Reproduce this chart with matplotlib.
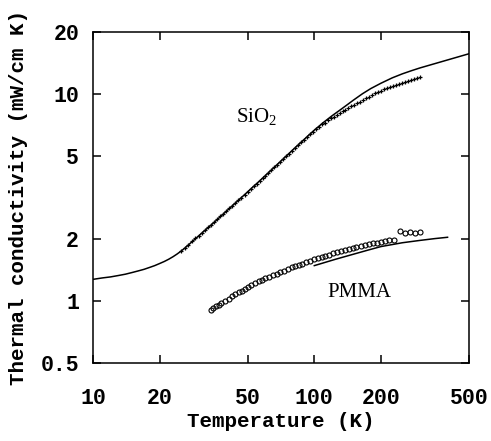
import numpy as np
import matplotlib
matplotlib.use('Agg')
import matplotlib.pyplot as plt
from matplotlib.ticker import FixedLocator, FixedFormatter, NullLocator

plt.rcParams['mathtext.fontset'] = 'custom'
plt.rcParams['mathtext.rm'] = 'Liberation Serif'
plt.rcParams['mathtext.it'] = 'Liberation Serif'

# SiO2 model curve (solid line)
sio2_fit_T = [10, 11, 12, 13, 14, 15, 16, 17, 18, 19, 20, 21, 22, 23, 24, 25, 26, 27, 28,
              29, 30, 32, 35, 40, 45, 50, 55, 60, 70, 80, 90, 100, 110, 120, 130, 140,
              150, 165, 180, 200, 225, 250, 275, 300, 500]
sio2_fit_k = [1.27, 1.29, 1.305, 1.325, 1.345, 1.37, 1.395, 1.42, 1.45, 1.48, 1.515, 1.55,
              1.59, 1.635, 1.685, 1.74, 1.80, 1.865, 1.93, 1.995, 2.06, 2.19, 2.38, 2.71,
              3.04, 3.37, 3.70, 4.03, 4.70, 5.38, 6.04, 6.7, 7.3, 7.85, 8.35, 8.85, 9.35,
              10.05, 10.65, 11.3, 12.0, 12.55, 13.0, 13.4, 15.7]

# SiO2 measured points
sio2_T = [25, 26, 27, 28, 29, 30, 31, 32, 33, 34, 35.2, 36.4, 37.6, 38.8, 40, 41.3, 42.6,
          44, 45.4, 46.8, 48.4, 50, 51.6, 53.3, 55, 56.8, 58.4, 60, 62, 64, 66, 68, 70,
          72.2, 74.5, 76.8, 79.2, 81.7, 84.3, 87, 89.8, 92.6, 95.5, 98.5, 101.6, 104.8,
          108.1, 111.5, 115, 118.6, 122.3, 126.1, 130, 134.1, 138.3, 142.6, 147.1, 151.7,
          156.5, 161.4, 166.5, 171.7, 177.1, 182.7, 188.5, 194.4, 200.5, 206.8, 213.3,
          220, 226.9, 234, 241.4, 249, 256.8, 264.9, 273.2, 281.8, 290.7, 299.8]
sio2_k = [1.74, 1.806, 1.872, 1.938, 2.003, 2.07, 2.135, 2.201, 2.266, 2.331, 2.41, 2.487,
          2.565, 2.642, 2.72, 2.804, 2.888, 2.978, 3.068, 3.157, 3.26, 3.37, 3.474, 3.585,
          3.696, 3.813, 3.918, 4.03, 4.164, 4.299, 4.433, 4.567, 4.70, 4.848, 5.002, 5.157,
          5.318, 5.486, 5.66, 5.842, 6.03, 6.212, 6.40, 6.596, 6.772, 6.953, 7.139, 7.283,
          7.467, 7.635, 7.795, 7.952, 8.111, 8.263, 8.418, 8.574, 8.736, 8.893, 9.056,
          9.218, 9.387, 9.556, 9.729, 9.905, 10.087, 10.268, 10.412, 10.545, 10.68, 10.815,
          10.953, 11.094, 11.236, 11.379, 11.495, 11.613, 11.733, 11.853, 11.975, 12.098]

# PMMA model curve
pmma_fit_T = [100, 125, 150, 175, 200, 250, 300, 350, 400]
pmma_fit_k = [1.48, 1.59, 1.68, 1.76, 1.83, 1.91, 1.96, 2.0, 2.03]

# PMMA measured points
pmma_T = [34, 35, 36, 37, 38, 39.5, 41, 42.5, 44, 45.5, 47, 48.5, 50, 52, 54, 56, 58, 60,
          62.5, 65, 67.5, 70, 73, 76, 79, 82, 85, 88, 92, 96, 100, 104, 108, 112, 117,
          122, 127, 132, 137, 143, 149, 155, 162, 169, 176, 184, 192, 200, 209, 218, 228,
          245, 258, 272, 285, 300]
pmma_k = [0.90, 0.92, 0.94, 0.955, 0.975, 1.0, 1.025, 1.05, 1.075, 1.10, 1.12, 1.14, 1.16,
          1.19, 1.22, 1.24, 1.265, 1.285, 1.31, 1.33, 1.355, 1.375, 1.40, 1.425, 1.45,
          1.475, 1.495, 1.515, 1.54, 1.565, 1.59, 1.61, 1.63, 1.65, 1.675, 1.695, 1.715,
          1.735, 1.755, 1.78, 1.80, 1.82, 1.84, 1.86, 1.875, 1.895, 1.91, 1.93, 1.945,
          1.96, 1.98, 2.17, 2.12, 2.15, 2.13, 2.16]

xticks = [10, 20, 50, 100, 200, 500]
yticks = [0.5, 1, 2, 5, 10, 20]
ytick_labels = ['0.5', '1', '2', '5', '10', '20']

mono = 'Liberation Mono'

fig = plt.figure(figsize=(4.91, 4.41), dpi=100)
ax = fig.add_axes([0.1894, 0.1769, 0.7658, 0.7505])

ax.plot(sio2_fit_T, sio2_fit_k, color='black', lw=1.1)
ax.plot(sio2_T, sio2_k, ls='none', marker='+', ms=3.5, mew=0.9, color='black')
ax.plot(pmma_fit_T, pmma_fit_k, color='black', lw=1.1)
ax.plot(pmma_T, pmma_k, ls='none', marker='o', ms=3.6, mew=0.8, mfc='none', color='black')

ax.set_xscale('log')
ax.set_yscale('log')
ax.set_xlim(10, 500)
ax.set_ylim(0.5, 20)

ax.xaxis.set_major_locator(FixedLocator(xticks))
ax.xaxis.set_major_formatter(FixedFormatter([str(t) for t in xticks]))
ax.xaxis.set_minor_locator(NullLocator())
ax.yaxis.set_major_locator(FixedLocator(yticks))
ax.yaxis.set_major_formatter(FixedFormatter(ytick_labels))
ax.yaxis.set_minor_locator(NullLocator())

ax.tick_params(direction='in', length=6, width=1.1, top=True, right=True)
ax.tick_params(axis='x', pad=18)
ax.tick_params(axis='y', pad=10)
for lab in ax.get_xticklabels() + ax.get_yticklabels():
    lab.set_fontfamily(mono)
    lab.set_fontweight('bold')
    lab.set_fontsize(15.5)

for sp in ax.spines.values():
    sp.set_linewidth(1.1)

ax.set_xlabel('Temperature (K)', fontfamily=mono, fontweight='bold', fontsize=15, va='center')
ax.set_ylabel('Thermal conductivity (mW/cm K)', fontfamily=mono, fontweight='bold',
              fontsize=15, va='center')
ax.xaxis.set_label_coords(0.5, -0.178)
ax.yaxis.set_label_coords(-0.199, 0.5)

ax.text(55, 7.76, 'SiO$_2$', fontfamily='Liberation Serif', fontsize=15,
        ha='center', va='center')
ax.text(160, 1.1, 'PMMA', fontfamily='Liberation Serif', fontsize=15,
        ha='center', va='center')

fig.savefig('out.png', dpi=100)
